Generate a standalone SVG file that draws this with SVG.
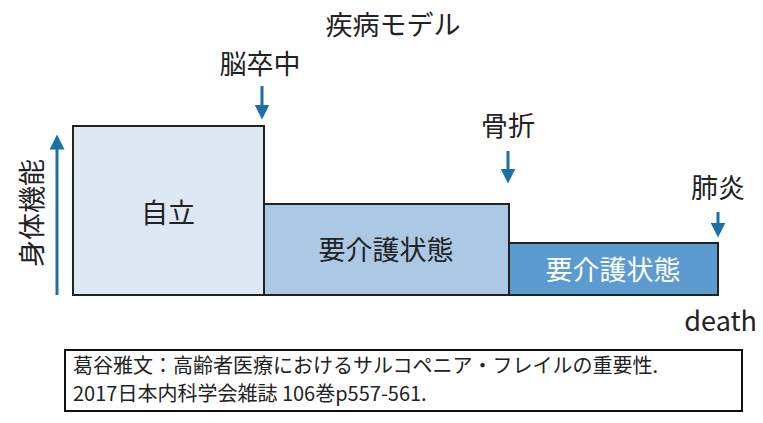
<svg xmlns="http://www.w3.org/2000/svg" width="763" height="423" viewBox="0 0 763 423">
<style>
text{font-family:"Noto Sans CJK JP","Noto Sans",sans-serif;fill:#222}
.b{stroke:#222;stroke-width:2}
.a{stroke:#1d6fa9;stroke-width:3;fill:none}
</style>
<defs><marker id="m" viewBox="0 0 10 10" refX="5" refY="5" markerWidth="5" markerHeight="5" orient="auto"><path d="M0,0L10,5L0,10z" fill="#1d6fa9"/></marker></defs>
<rect width="763" height="423" fill="#fff"/>
<text x="393" y="35" font-size="27" text-anchor="middle">疾病モデル</text>
<g id="n1"><rect class="b" x="73" y="126" width="191" height="169" fill="#dde8f3"/><text x="168" y="223" font-size="27" text-anchor="middle">自立</text></g>
<g id="n2"><rect class="b" x="264" y="204" width="245" height="91" fill="#abc8e4"/><text x="386" y="260" font-size="27" text-anchor="middle">要介護状態</text></g>
<g id="n3"><rect class="b" x="509" y="243" width="209" height="52" fill="#5b9bd0"/><text x="613" y="280" font-size="27" text-anchor="middle" style="fill:#fff">要介護状態</text></g>
<g id="l1"><text x="260" y="74" font-size="27" text-anchor="middle">脳卒中</text></g>
<g id="l2"><text x="508" y="136" font-size="27" text-anchor="middle">骨折</text></g>
<g id="l3"><text x="718" y="198" font-size="27" text-anchor="middle">肺炎</text></g>
<g id="ylab"><text transform="translate(42,213) rotate(-90)" font-size="27" text-anchor="middle">身体機能</text></g>
<text x="757" y="331" font-size="27" text-anchor="end">death</text>
<g id="connectors">
<line class="a" x1="262" y1="86" x2="262" y2="112" marker-end="url(#m)"/>
<line class="a" x1="508" y1="151" x2="508" y2="176" marker-end="url(#m)"/>
<line class="a" x1="718" y1="212" x2="718" y2="230" marker-end="url(#m)"/>
<line class="a" x1="57" y1="295" x2="57" y2="142" marker-end="url(#m)"/>
</g>
<g id="cite"><rect x="65" y="350" width="677" height="61" fill="#fff" stroke="#111" stroke-width="2"/>
<text x="73" y="373" font-size="20">葛谷雅文：高齢者医療におけるサルコペニア・フレイルの重要性.</text>
<text x="73" y="401" font-size="20">2017日本内科学会雑誌 106巻p557-561.</text></g>
</svg>
